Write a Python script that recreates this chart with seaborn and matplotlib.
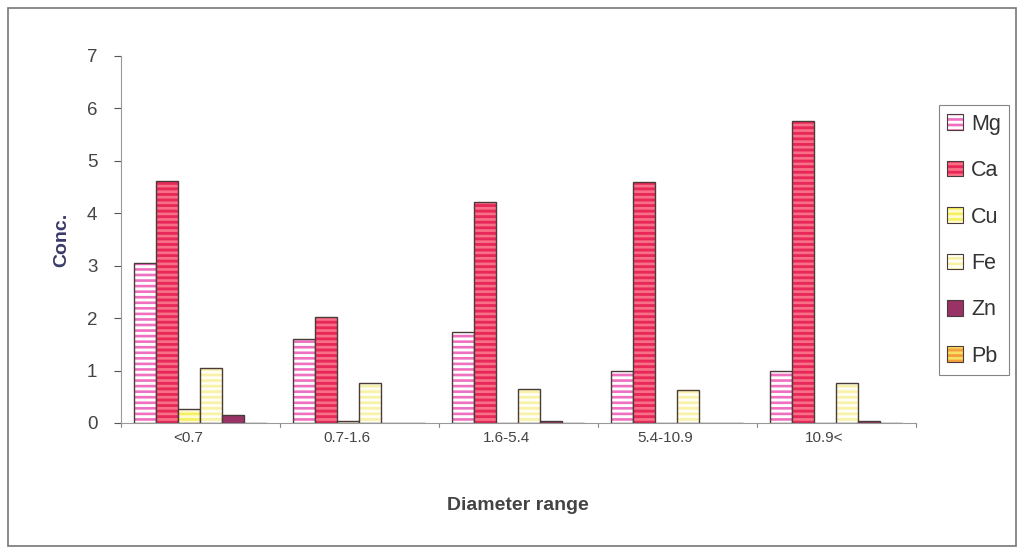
import matplotlib
matplotlib.use("Agg")
import matplotlib.pyplot as plt
import matplotlib.colors as mcolors
import matplotlib.transforms as mtransforms
from matplotlib.patches import Rectangle
import seaborn as sns
import pandas as pd

categories = ["<0.7", "0.7-1.6", "1.6-5.4", "5.4-10.9", "10.9<"]
series = ["Mg", "Ca", "Cu", "Fe", "Zn", "Pb"]
mg = [3.05, 1.60, 1.73, 1.00, 1.00]
ca = [4.62, 2.02, 4.22, 4.60, 5.75]
cu = [0.27, 0.03, 0.00, 0.00, 0.00]
fe = [1.05, 0.76, 0.64, 0.63, 0.76]
zn = [0.15, 0.00, 0.03, 0.00, 0.03]
pb = [0.00, 0.00, 0.00, 0.00, 0.00]
yticks = [0, 1, 2, 3, 4, 5, 6, 7]

values = {"Mg": mg, "Ca": ca, "Cu": cu, "Fe": fe, "Zn": zn, "Pb": pb}
rows = []
for s in series:
    for c, v in zip(categories, values[s]):
        rows.append({"range": c, "metal": s, "conc": v})
df = pd.DataFrame(rows)

face = {"Mg": "#ffffff", "Ca": "#e82858", "Cu": "#fffad0", "Fe": "#fffef4",
        "Zn": "#993366", "Pb": "#f5a040"}
stripe = {"Mg": "#f070c0", "Ca": "#f87088", "Cu": "#f5f060", "Fe": "#f8f2a8",
          "Zn": "#b0508a", "Pb": "#f8e060"}

sns.set_style("white")
plt.rcParams["font.family"] = ["Liberation Sans", "DejaVu Sans"]
plt.rcParams["hatch.linewidth"] = 1.9

fig = plt.figure(figsize=(10.2, 5.52), dpi=100)
fig.patch.set_facecolor("white")
ax = fig.add_axes([0.1186, 0.2337, 0.779, 0.665])

sns.barplot(data=df, x="range", y="conc", hue="metal", order=categories,
            hue_order=series, palette=face, width=0.83, ax=ax,
            edgecolor="#4a3a3a", linewidth=1.0, errorbar=None, legend=True)

def style_patch(p, s):
    p.set_facecolor(face[s])
    p.set_edgecolor("#4a3a3a")
    if s != "Zn":
        p.set_hatch("---")
        col = mcolors.to_rgba(stripe[s])
        if hasattr(p, "set_hatchcolor"):
            try:
                p.set_hatchcolor(col)
            except Exception:
                p._hatch_color = col
        else:
            p._hatch_color = col

for cont, s in zip(ax.containers, series):
    for p in cont.patches:
        style_patch(p, s)

ax.set_ylim(0, 7)
ax.set_xlim(-0.5, 4.5)
ax.set_yticks(yticks)
ax.set_yticklabels([str(t) for t in yticks], fontsize=13.5, color="#444444")
ax.tick_params(axis="x", labelsize=11, colors="#333333", length=0, pad=6)
ax.tick_params(axis="y", length=5, direction="out", left=True, colors="#555555", pad=12)
for lab in ax.get_yticklabels():
    lab.set_color("#444444")
ax.set_xticks(range(len(categories)))
ax.set_xticklabels(categories)
off = mtransforms.ScaledTranslation(-0.12, 0, fig.dpi_scale_trans)
for lab in ax.get_xticklabels():
    lab.set_transform(lab.get_transform() + off)
    lab.set_color("#444444")
for x in [-0.5, 0.5, 1.5, 2.5, 3.5, 4.5]:
    ax.plot([x, x], [0, -0.08], color="#888888", lw=0.8, clip_on=False)
sns.despine(ax=ax, top=True, right=True)
ax.spines["left"].set_color("#999999")
ax.spines["bottom"].set_color("#999999")
ax.set_ylabel("Conc.", fontsize=14, fontweight="bold", color="#3a3a6a", labelpad=12)
ax.set_xlabel("Diameter range", fontsize=14, fontweight="bold", color="#444444", labelpad=37)

leg = ax.legend(loc="upper left", bbox_to_anchor=(1.029, 0.866), frameon=True,
                fontsize=15.5, handlelength=0.75, handleheight=0.75, handletextpad=0.35,
                labelspacing=1.18, borderpad=0.4, borderaxespad=0, fancybox=False,
                edgecolor="#666666")
leg._legend_box.sep = 0
for h, s in zip(leg.legend_handles, series):
    style_patch(h, s)
    h.set_linewidth(0.8)
for t in leg.get_texts():
    t.set_color("#333333")
leg.get_frame().set_linewidth(0.8)

fig.add_artist(Rectangle((0.008, 0.01), 0.988, 0.975, transform=fig.transFigure,
                         fill=False, edgecolor="#777777", lw=1.2))

fig.savefig("out.png", dpi=100)
